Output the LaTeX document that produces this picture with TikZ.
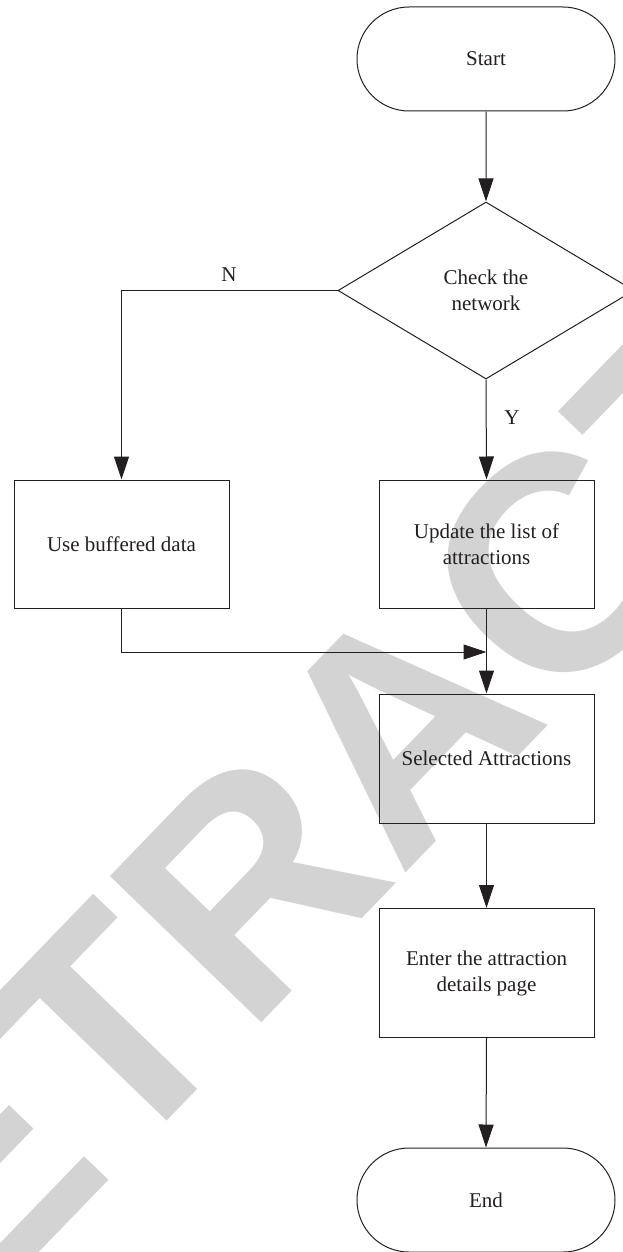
\documentclass[tikz,border=0pt]{standalone}
\usepackage{fontspec}
\setmainfont{Liberation Serif}
\newfontfamily\wmfont{Liberation Sans}
\usetikzlibrary{shapes.geometric,shapes.misc,arrows.meta}
\definecolor{ink}{HTML}{231F20}
\definecolor{wm}{HTML}{D3D3D3}
\begin{document}
\begin{tikzpicture}[x=1pt,y=-1pt,
  every node/.style={font=\fontsize{21}{26}\selectfont, text=ink},
  box/.style={draw=ink, line width=1pt, rectangle, minimum width=215pt, minimum height=128pt, align=center, inner sep=0pt},
  term/.style={draw=ink, line width=1pt, rounded rectangle, minimum width=258pt, minimum height=104pt, inner sep=0pt},
  dec/.style={draw=ink, line width=1pt, diamond, minimum width=296pt, minimum height=177pt, align=center, inner sep=0pt},
  arr/.style={draw=ink, line width=1pt, -{Triangle[length=23pt,width=15pt]}},
  lbl/.style={font=\fontsize{21}{26}\selectfont}
]
\useasboundingbox (0,0) rectangle (622,1252);
% watermark
\node[rotate=46, text=wm, font=\wmfont\bfseries\fontsize{306}{306}\selectfont, inner sep=0pt] (wmk) at (402,726) {RETRACTED};
% nodes
\node[term] (start) at (486,59) {Start};
\node[dec] (check) at (486,290.5) {Check the\\network};
\node[box] (buf) at (121.5,544) {Use buffered data};
\node[box] (upd) at (486.5,544) {Update the list of\\attractions};
\node[box, minimum height=129pt] (sel) at (486.5,758.5) {Selected Attractions};
\node[box, minimum height=129pt] (ent) at (486.5,973) {Enter the attraction\\details page};
\node[term] (fin) at (486,1200) {End};
\coordinate (join) at (486.5,652);
% connectors
\draw[arr] (start) -- (check);
\draw[arr] (check.west) -| (buf.north);
\draw[arr] (check.south) -- (upd.north);
\draw[arr] (buf.south) |- (join);
\draw[arr] (upd.south) -- (sel.north);
\draw[arr] (sel.south) -- (ent.north);
\draw[arr] (ent.south) -- (fin.north);
\node[lbl] (nl) at (229,275) {N};
\node[lbl] (yl) at (512,418) {Y};
\end{tikzpicture}
\end{document}
